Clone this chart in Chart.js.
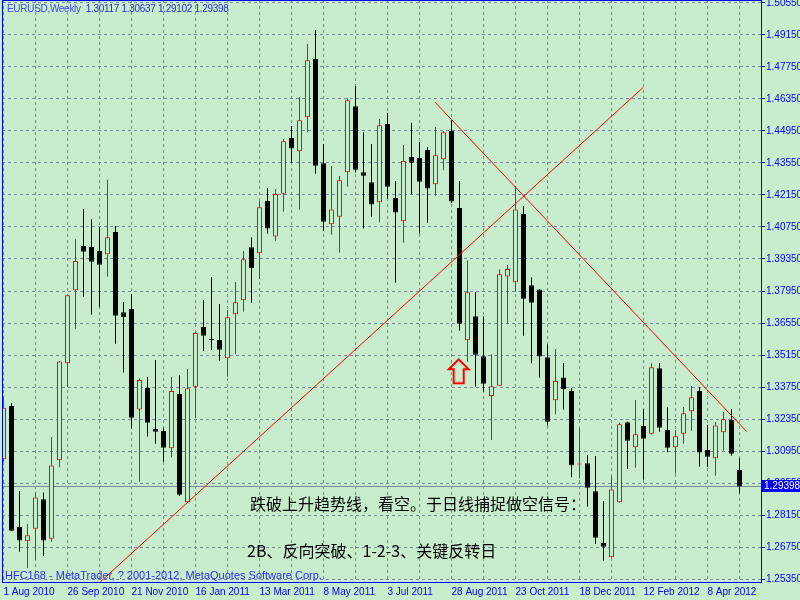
<!DOCTYPE html>
<html>
<head>
<meta charset="utf-8">
<script src="https://cdn.jsdelivr.net/npm/chart.js@4.4.1/dist/chart.umd.min.js"></script>
<style>
  body { margin: 0; background: #c7edcc; }
  #wrap { position: relative; width: 800px; height: 600px; overflow: hidden; }
  .txt { position: absolute; white-space: pre; }
  #title { left: 7px; top: 3px; font: 10px "Liberation Sans", sans-serif; line-height: 12px; letter-spacing: -0.3px; color: #2a2ad0; }
  #title .sym { color: #4646ff; }
  #copy { left: 5px; top: 569px; font: 11px "Liberation Sans", sans-serif; line-height: 13px; color: #2b2bff; }
  .cn { font: 16px "Noto Sans CJK SC", sans-serif; line-height: 20px; color: #000; }
  #note1 { left: 250px; top: 493px; }
  #note2 { left: 247px; top: 540px; }
</style>
</head>
<body>
<div id="wrap">
  <canvas id="chart" width="800" height="600"></canvas>
  <div class="txt" id="title"></div>
  <div class="txt" id="copy">HFC168 - MetaTrader, ? 2001-2012, MetaQuotes Software Corp.</div>
  <div class="txt cn" id="note1">跌破上升趋势线，看空。于日线捕捉做空信号：</div>
  <div class="txt cn" id="note2">2B、反向突破、1-2-3、关键反转日</div>
</div>
<script>
// EURUSD weekly candles, one per week starting 1 Aug 2010
const open = [1.3059, 1.3292, 1.2762, 1.2700, 1.2755, 1.2884, 1.2711, 1.3054, 1.3479, 1.3798,
  1.3992, 1.3988, 1.3970, 1.3956, 1.4053, 1.3702, 1.3716, 1.3277, 1.3371, 1.3191,
  1.3183, 1.3107, 1.3344, 1.2871, 1.3376, 1.3638, 1.3585, 1.3581, 1.3501, 1.3693,
  1.3754, 1.3986, 1.3960, 1.4189, 1.4033, 1.4221, 1.4464, 1.4406, 1.4555, 1.4810,
  1.4354, 1.4087, 1.4120, 1.4314, 1.4603, 1.4314, 1.4271, 1.4183, 1.4526, 1.4202,
  1.4100, 1.4381, 1.4377, 1.4412, 1.4262, 1.4371, 1.4495, 1.4158, 1.3579, 1.3684,
  1.3509, 1.3336, 1.3381, 1.3858, 1.3833, 1.4132, 1.3820, 1.3802, 1.3505, 1.3317,
  1.3417, 1.3358, 1.3036, 1.3041, 1.2919, 1.2693, 1.2630, 1.2871, 1.3221, 1.3111,
  1.3204, 1.3171, 1.3457, 1.3187, 1.3111, 1.3171, 1.3269, 1.3358, 1.3099, 1.3063,
  1.3177, 1.3231, 1.30117];
const high = [1.3333, 1.3304, 1.2920, 1.2776, 1.2914, 1.2914, 1.3156, 1.3489, 1.3778, 1.4021,
  1.4154, 1.4109, 1.4075, 1.4282, 1.4079, 1.3747, 1.3782, 1.3413, 1.3419, 1.3493,
  1.3197, 1.3419, 1.3426, 1.3454, 1.3617, 1.3756, 1.3856, 1.3738, 1.3712, 1.3834,
  1.3970, 1.4030, 1.4189, 1.4246, 1.4241, 1.4460, 1.4517, 1.4644, 1.4876, 1.4937,
  1.4438, 1.4342, 1.4298, 1.4638, 1.4692, 1.4489, 1.4438, 1.4548, 1.4574, 1.4276,
  1.4434, 1.4531, 1.4448, 1.4424, 1.4513, 1.4495, 1.4543, 1.4276, 1.3929, 1.3791,
  1.3684, 1.3518, 1.3890, 1.3909, 1.4254, 1.4167, 1.3855, 1.3804, 1.3562, 1.3541,
  1.3480, 1.3371, 1.3194, 1.3078, 1.3073, 1.2876, 1.2983, 1.3219, 1.3223, 1.3318,
  1.3279, 1.3479, 1.3480, 1.3286, 1.3187, 1.3288, 1.3379, 1.3375, 1.3209, 1.3222,
  1.3266, 1.3279, 1.30637];
const low = [1.3048, 1.2744, 1.2654, 1.2582, 1.2618, 1.2636, 1.2698, 1.3024, 1.3374, 1.3630,
  1.3770, 1.3691, 1.3726, 1.3858, 1.3564, 1.3438, 1.3193, 1.2961, 1.3158, 1.3127,
  1.3048, 1.3067, 1.2898, 1.2869, 1.3238, 1.3533, 1.3537, 1.3490, 1.3420, 1.3518,
  1.3704, 1.3744, 1.3848, 1.4046, 1.4015, 1.4142, 1.4356, 1.4151, 1.4489, 1.4308,
  1.4059, 1.4041, 1.3963, 1.4251, 1.4313, 1.4068, 1.4120, 1.4096, 1.4199, 1.3831,
  1.4006, 1.4218, 1.4046, 1.4094, 1.4212, 1.4323, 1.4179, 1.3621, 1.3486, 1.3376,
  1.3354, 1.3143, 1.3379, 1.3649, 1.3792, 1.3599, 1.3479, 1.3416, 1.3206, 1.3256,
  1.3276, 1.2980, 1.2976, 1.2851, 1.2688, 1.2615, 1.2628, 1.2869, 1.3016, 1.3022,
  1.2969, 1.3166, 1.3179, 1.3089, 1.2996, 1.3127, 1.3184, 1.3026, 1.3026, 1.2987,
  1.3096, 1.3074, 1.29102];
const close = [1.3284, 1.2746, 1.2703, 1.2726, 1.2892, 1.2703, 1.3032, 1.3487, 1.3776, 1.3926,
  1.3967, 1.3923, 1.3910, 1.4030, 1.3687, 1.3680, 1.3241, 1.3406, 1.3219, 1.3179,
  1.3109, 1.3358, 1.2904, 1.3369, 1.3611, 1.3599, 1.3580, 1.3538, 1.3680, 1.3746,
  1.3934, 1.3894, 1.4161, 1.4068, 1.4219, 1.4450, 1.4418, 1.4542, 1.4804, 1.4343,
  1.4098, 1.4152, 1.4279, 1.4629, 1.4326, 1.4299, 1.4173, 1.4520, 1.4251, 1.4138,
  1.4364, 1.4356, 1.4273, 1.4243, 1.4389, 1.4489, 1.4187, 1.3652, 1.3789, 1.3516,
  1.3389, 1.3378, 1.3868, 1.3891, 1.4152, 1.3761, 1.3744, 1.3508, 1.3223, 1.3401,
  1.3365, 1.3032, 1.3040, 1.2934, 1.2716, 1.2676, 1.2927, 1.3212, 1.3140, 1.3168,
  1.3149, 1.3461, 1.3197, 1.3109, 1.3159, 1.3260, 1.3330, 1.3088, 1.3070, 1.3207,
  1.3234, 1.3083, 1.29398];

const xTickLabels = ['1 Aug 2010', '26 Sep 2010', '21 Nov 2010', '16 Jan 2011', '13 Mar 2011', '8 May 2011',
  '3 Jul 2011', '28 Aug 2011', '23 Oct 2011', '18 Dec 2011', '12 Feb 2012', '8 Apr 2012'];
const yTicks = [1.2535, 1.2675, 1.2815, 1.2955, 1.3095, 1.3235, 1.3375, 1.3515, 1.3655, 1.3795,
  1.3935, 1.4075, 1.4215, 1.4355, 1.4495, 1.4635, 1.4775, 1.4915, 1.5055];

// hand-drawn trend lines (week index, price)
const upTrend = [{x: 12.12, y: 1.2523}, {x: 79.94, y: 1.4685}];
const downTrend = [{x: 53.94, y: 1.4621}, {x: 92.9, y: 1.3180}];
const arrowTip = {x: 56.9, y: 1.3496};

const xMin = -0.1875, xMax = 94.6875;
const yMin = 1.25219, yMax = 1.50681;

const BG = '#c7edcc';
const BLUE = '#0000ff';
const GRID = '#778899';
const last = close.length - 1;

document.getElementById('title').innerHTML =
  '<span class="sym">EURUSD,Weekly</span>  ' +
  [open[last], high[last], low[last], close[last]].map(v => v.toFixed(5)).join(' ');

const isUp = close.map((c, i) => c >= open[i]);
const candleColor = isUp.map(u => u ? '#ff0000' : '#000000');

const wicks = {
  data: high.map((h, i) => ({x: i, y: [low[i], h]})),
  backgroundColor: candleColor,
  borderWidth: 0,
  barThickness: 1,
  grouped: false,
  inflateAmount: 0,
  order: 2
};
const bodies = {
  data: open.map((o, i) => ({x: i, y: [o, close[i]]})),
  backgroundColor: isUp.map(u => u ? BG : '#000000'),
  borderColor: candleColor,
  borderWidth: 1,
  borderSkipped: false,
  barThickness: 5,
  minBarLength: 1,
  grouped: false,
  inflateAmount: 0,
  order: 1
};
const lineStyle = {type: 'line', borderWidth: 1, pointRadius: 0, order: 0};

const extras = {
  id: 'extras',
  afterDraw(chart) {
    const {ctx, chartArea: a, scales: {x, y}} = chart;
    ctx.save();
    // chart frame (left and top)
    ctx.strokeStyle = BLUE;
    ctx.lineWidth = 1;
    ctx.beginPath();
    ctx.moveTo(a.left + 0.5, a.bottom);
    ctx.lineTo(a.left + 0.5, a.top + 0.5);
    ctx.lineTo(a.right, a.top + 0.5);
    ctx.stroke();

    // up arrow
    const tx = x.getPixelForValue(arrowTip.x);
    const ty = y.getPixelForValue(arrowTip.y);
    const pts = [[0, 0], [10, 10], [5, 10], [5, 24], [-5, 24], [-5, 10], [-10, 10]];
    ctx.beginPath();
    pts.forEach(([dx, dy], i) => i ? ctx.lineTo(tx + dx, ty + dy) : ctx.moveTo(tx + dx, ty + dy));
    ctx.closePath();
    ctx.strokeStyle = '#ff0000';
    ctx.lineWidth = 2;
    ctx.stroke();
    ctx.beginPath();
    ctx.moveTo(tx - 3.5, ty + 12);
    ctx.lineTo(tx - 3.5, ty + 22.5);
    ctx.lineTo(tx + 3.5, ty + 22.5);
    ctx.strokeStyle = '#ff9a9a';
    ctx.lineWidth = 1;
    ctx.stroke();

    // last price box on the axis
    const py = Math.round(y.getPixelForValue(close[last]));
    ctx.fillStyle = BLUE;
    ctx.fillRect(a.right + 1, py - 6, chart.width - a.right - 1, 12);
    ctx.fillStyle = '#ffffff';
    ctx.font = '10px "Liberation Sans", sans-serif';
    ctx.textBaseline = 'middle';
    ctx.fillText(close[last].toFixed(5), a.right + 3, py + 0.5);
    ctx.restore();
  }
};

new Chart(document.getElementById('chart'), {
  type: 'bar',
  data: {
    datasets: [
      wicks,
      bodies,
      {...lineStyle, data: upTrend, borderColor: '#ff0000'},
      {...lineStyle, data: downTrend, borderColor: '#ff0000'},
      {...lineStyle, data: [{x: xMin, y: close[last]}, {x: xMax, y: close[last]}], borderColor: GRID, order: 3}
    ]
  },
  options: {
    responsive: false,
    animation: false,
    devicePixelRatio: 1,
    layout: {padding: {left: 2, top: 0, right: 0, bottom: 0}},
    plugins: {legend: {display: false}, tooltip: {enabled: false}},
    scales: {
      x: {
        type: 'linear',
        offset: false,
        min: xMin,
        max: xMax,
        afterBuildTicks: s => { s.ticks = xTickLabels.flatMap((_, k) => [{value: k * 8}, {value: k * 8 + 4}]); },
        afterFit: s => { s.height = 18; s.paddingLeft = 0; s.paddingRight = 0; },
        ticks: {
          autoSkip: false,
          maxRotation: 0,
          align: 'start',
          padding: 4,
          color: BLUE,
          font: {family: 'Liberation Sans', size: 10},
          callback: v => (v % 8 === 0 ? xTickLabels[v / 8] : '')
        },
        grid: {color: GRID, drawTicks: false, offset: false},
        border: {color: BLUE, dash: [3, 3]}
      },
      y: {
        position: 'right',
        min: yMin,
        max: yMax,
        afterBuildTicks: s => { s.ticks = yTicks.map(v => ({value: v})); },
        afterFit: s => { s.width = 39; s.paddingTop = 0; s.paddingBottom = 0; },
        ticks: {
          padding: 1,
          color: BLUE,
          font: {family: 'Liberation Sans', size: 10},
          callback: v => v.toFixed(5)
        },
        grid: {color: GRID, tickColor: BLUE, tickLength: 4},
        border: {color: BLUE, dash: [3, 3]}
      }
    }
  },
  plugins: [extras]
});
</script>
</body>
</html>
